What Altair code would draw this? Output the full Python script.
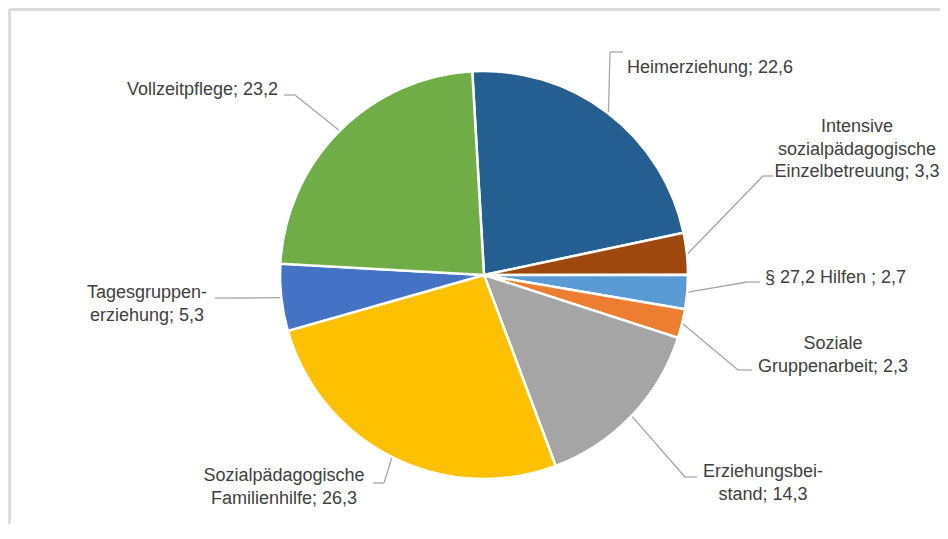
import math
import altair as alt
import pandas as pd

# ---- data ----
cats = ["Heimerziehung", "Intensive sozialpädagogische Einzelbetreuung", "§ 27,2 Hilfen",
        "Soziale Gruppenarbeit", "Erziehungsbeistand", "Sozialpädagogische Familienhilfe",
        "Tagesgruppenerziehung", "Vollzeitpflege"]
vals = [22.6, 3.3, 2.7, 2.3, 14.3, 26.3, 5.3, 23.2]
label_text = ["Heimerziehung; 22,6",
              "Intensive\nsozialpädagogische\nEinzelbetreuung; 3,3",
              "§ 27,2 Hilfen ; 2,7",
              "Soziale\nGruppenarbeit; 2,3",
              "Erziehungsbei-\nstand; 14,3",
              "Sozialpädagogische\nFamilienhilfe; 26,3",
              "Tagesgruppen-\nerziehung; 5,3",
              "Vollzeitpflege; 23,2"]

# ---- style / layout ----
colors = ["#255E91", "#9E480E", "#5B9BD5", "#ED7D31", "#A5A5A5", "#FFC000", "#4472C4", "#70AD47"]
label_x = [619, 849, 757, 825, 755, 276, 139, 270]
label_y = [59, 118, 269, 335, 463, 467, 284, 81]
label_align = ["left", "center", "left", "center", "center", "center", "center", "right"]
elbow_x = [602, 755, 739, 730, 677, 376, 230, 287]
elbow_y = [43, 167, 273, 361, 468, 474, 289, 86]
end_x = [615, 765, 752, 744, 689, 365, 207, 276]
end_y = [43, 167, 273, 361, 468, 474, 289, 86]

CX, CY, R = 476, 266, 204
RL = 205
START = math.radians(-3.3)
TOTAL = sum(vals)
W, H = 932, 516

df = pd.DataFrame({
    "i": list(range(len(cats))), "cat": cats, "v": vals, "lbl": label_text,
    "lx": label_x, "ly": label_y, "al": label_align,
    "bx": elbow_x, "by": elbow_y, "ex": end_x, "ey": end_y,
})

base = alt.Chart(df)

pie = base.mark_arc(outerRadius=R, stroke="white", strokeWidth=2.5).encode(
    theta=alt.Theta("v:Q", stack=True,
                    scale=alt.Scale(domain=[0, TOTAL], range=[START, START + 2 * math.pi])),
    color=alt.Color("cat:N", scale=alt.Scale(domain=cats, range=colors), legend=None),
    order=alt.Order("i:Q"),
    x=alt.value(CX), y=alt.value(CY),
)

lead = base.transform_window(
    cum="sum(v)", sort=[alt.SortField("i")], frame=[None, 0]
).transform_calculate(
    ang=f"{START} + 2*PI*(datum.cum - datum.v/2)/{TOTAL}"
).transform_calculate(
    sx=f"{CX} + {RL}*sin(datum.ang)", sy=f"{CY} - {RL}*cos(datum.ang)"
)

seg1 = lead.mark_rule(color="#A6A6A6", strokeWidth=1.3).encode(
    x=alt.X("sx:Q", scale=None, axis=None), y=alt.Y("sy:Q", scale=None, axis=None),
    x2="bx:Q", y2="by:Q")
seg2 = base.mark_rule(color="#A6A6A6", strokeWidth=1.3).encode(
    x=alt.X("bx:Q", scale=None, axis=None), y=alt.Y("by:Q", scale=None, axis=None),
    x2="ex:Q", y2="ey:Q")

texts = []
for a in ["left", "center", "right"]:
    texts.append(base.transform_filter(alt.datum.al == a).mark_text(
        align=a, baseline="middle", lineBreak="\n", lineHeight=22.5,
        font="Liberation Sans", fontSize=18, color="#404040").encode(
        x=alt.X("lx:Q", scale=None, axis=None), y=alt.Y("ly:Q", scale=None, axis=None),
        text="lbl:N"))

border_top = base.mark_rule(color="#D9D9D9", strokeWidth=1.5).encode(
    x=alt.value(1.5), x2=alt.value(W), y=alt.value(0.5), y2=alt.value(0.5))
border_left = base.mark_rule(color="#D9D9D9", strokeWidth=1.5).encode(
    x=alt.value(1.5), x2=alt.value(1.5), y=alt.value(0.5), y2=alt.value(H))

chart = alt.layer(border_top, border_left, pie, seg1, seg2, *texts).properties(
    width=W, height=H, padding=0,
    autosize=alt.AutoSizeParams(type="fit", contains="padding"),
    background="white",
).configure_view(stroke=None)

chart.save("out.html", embed_options={"renderer": "svg", "actions": False})
